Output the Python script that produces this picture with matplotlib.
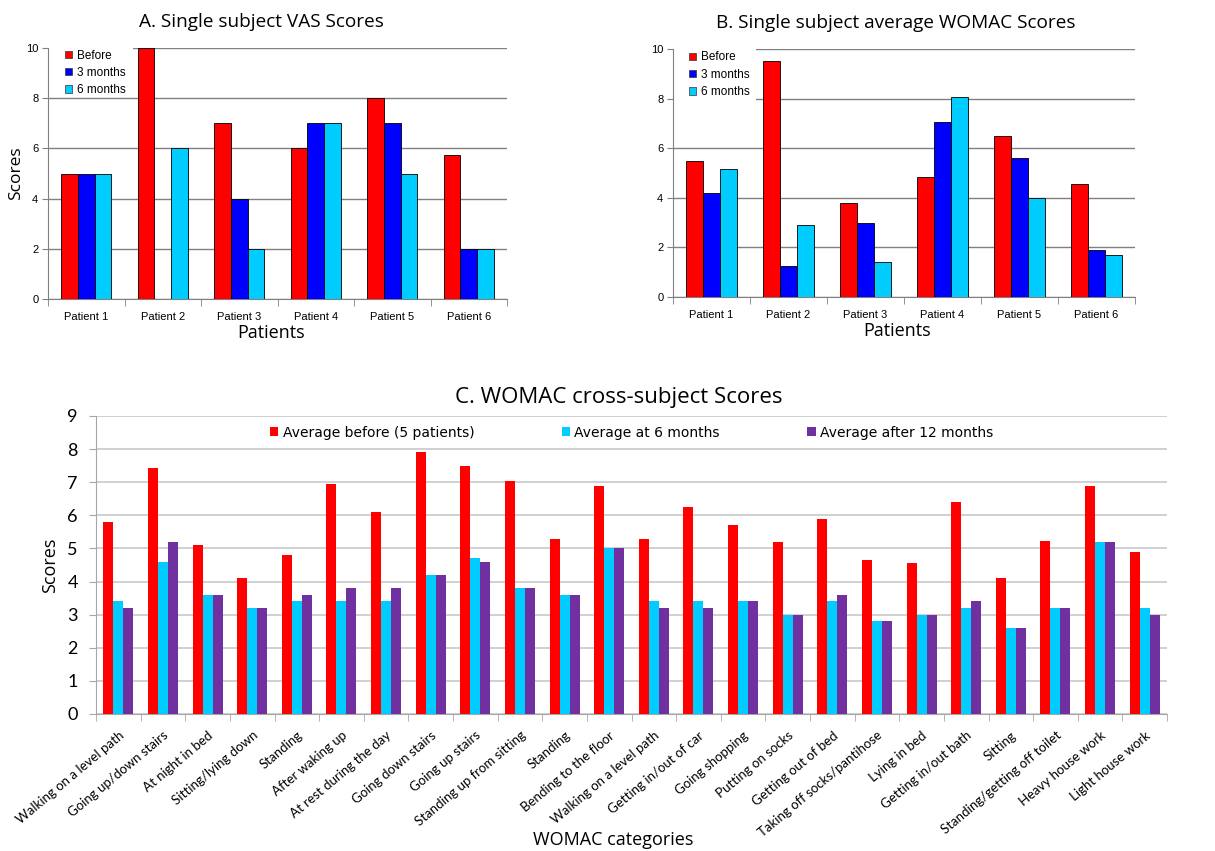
import numpy as np
import matplotlib.pyplot as plt
from matplotlib.patches import Patch, Rectangle

# --- data ---
patients = ['Patient 1', 'Patient 2', 'Patient 3', 'Patient 4', 'Patient 5', 'Patient 6']

vas_before = [5, 10, 7, 6, 8, 5.75]
vas_3m = [5, 0, 4, 7, 7, 2]
vas_6m = [5, 6, 2, 7, 5, 2]

womac_before = [5.5, 9.5, 3.8, 4.85, 6.5, 4.55]
womac_3m = [4.2, 1.25, 3.0, 7.05, 5.6, 1.9]
womac_6m = [5.15, 2.9, 1.4, 8.05, 4.0, 1.7]

categories = ['Walking on a level path', 'Going up/down stairs', 'At night in bed',
              'Sitting/lying down', 'Standing', 'After waking up', 'At rest during the day',
              'Going down stairs', 'Going up stairs', 'Standing up from sitting', 'Standing',
              'Bending to the floor', 'Walking on a level path', 'Getting in/out of car',
              'Going shopping', 'Putting on socks', 'Getting out of bed',
              'Taking off socks/pantihose', 'Lying in bed', 'Getting in/out bath', 'Sitting',
              'Standing/getting off toilet', 'Heavy house work', 'Light house work']
avg_before = [5.8, 7.42, 5.1, 4.1, 4.8, 6.94, 6.1, 7.9, 7.5, 7.05, 5.3, 6.9,
              5.3, 6.25, 5.7, 5.2, 5.9, 4.65, 4.55, 6.4, 4.1, 5.22, 6.9, 4.9]
avg_6m = [3.4, 4.6, 3.6, 3.2, 3.4, 3.4, 3.4, 4.2, 4.7, 3.8, 3.6, 5.0,
          3.4, 3.4, 3.4, 3.0, 3.4, 2.8, 3.0, 3.2, 2.6, 3.2, 5.2, 3.2]
avg_12m = [3.2, 5.2, 3.6, 3.2, 3.6, 3.8, 3.8, 4.2, 4.6, 3.8, 3.6, 5.0,
           3.2, 3.2, 3.4, 3.0, 3.6, 2.8, 3.0, 3.4, 2.6, 3.2, 5.2, 3.0]

RED = '#FF0000'
BLUE = '#0000FF'
CYAN = '#00CCFF'
PURPLE = '#7030A0'

W, H = 1215, 851
fig = plt.figure(figsize=(W / 100, H / 100), dpi=100)


def box(left, top, right, bottom):
    return [left / W, 1 - bottom / H, (right - left) / W, (bottom - top) / H]


def patient_panel(rect, title, before, m3, m6, ylabel, leg_xy, cover, tx):
    ax = fig.add_axes(rect)
    x = np.arange(len(patients))
    w = 0.218
    for off, vals, c in [(-w, before, RED), (0, m3, BLUE), (w, m6, CYAN)]:
        ax.bar(x + off, vals, w, color=c, edgecolor='black', linewidth=0.6, zorder=3)
    ax.set_xlim(-0.5, len(patients) - 0.5)
    ax.set_ylim(0, 10)
    ax.set_yticks([0, 2, 4, 6, 8, 10])
    ax.yaxis.grid(True, color='#808080', linewidth=1.0, zorder=0)
    ax.set_axisbelow(True)
    for s in ['top', 'right']:
        ax.spines[s].set_visible(False)
    for s in ['left', 'bottom']:
        ax.spines[s].set_color('#808080')
    ax.set_xticks(x)
    ax.set_xticklabels(patients, fontsize=8, family='Liberation Sans')
    ax.set_xticks(np.arange(-0.5, len(patients)), minor=True)
    ax.tick_params(axis='x', which='major', length=0, pad=9)
    ax.tick_params(axis='x', which='minor', length=5, color='#808080')
    ax.tick_params(axis='y', length=4, color='#808080', labelsize=8, pad=3)
    for t in ax.get_yticklabels():
        t.set_family('Liberation Sans')
    ax.set_title(title, fontsize=13.7, family='Open Sans', pad=15, x=tx)
    ax.set_xlabel('Patients', fontsize=13, family='Open Sans', labelpad=2)
    ax.xaxis.label.set_x(0.485)
    if ylabel:
        ax.set_ylabel(ylabel, fontsize=12.5, family='Open Sans', labelpad=1)
    # white patch behind the legend hides the top gridlines there
    ax.add_patch(Rectangle((0, cover[1]), cover[0], 1.02 - cover[1], transform=ax.transAxes,
                           facecolor='white', edgecolor='none', zorder=1))
    handles = [Patch(facecolor=RED, edgecolor='#333333', linewidth=0.5),
               Patch(facecolor=BLUE, edgecolor='#333333', linewidth=0.5),
               Patch(facecolor=CYAN, edgecolor='#333333', linewidth=0.5)]
    ax.legend(handles, ['Before', '3 months', '6 months'], loc='upper left',
              bbox_to_anchor=leg_xy, prop={'family': 'Liberation Sans', 'size': 8.5},
              handlelength=0.6, handleheight=0.6, handletextpad=0.4, labelspacing=0.45,
              borderpad=0, borderaxespad=0, frameon=False)
    return ax


patient_panel(box(48, 48, 507, 299), 'A. Single subject VAS Scores',
              vas_before, vas_3m, vas_6m, 'Scores', (0.037, 0.994), (0.185, 0.83), 0.466)
patient_panel(box(673, 49, 1135, 297), 'B. Single subject average WOMAC Scores',
              womac_before, womac_3m, womac_6m, None, (0.035, 0.99), (0.18, 0.76), 0.483)

# cross-subject panel
ax = fig.add_axes(box(96, 416, 1167, 714))
x = np.arange(len(categories))
w = 0.224
ax.bar(x - w, avg_before, w, color=RED, zorder=3, label='Average before (5 patients)')
ax.bar(x, avg_6m, w, color=CYAN, zorder=3, label='Average at 6 months')
ax.bar(x + w, avg_12m, w, color=PURPLE, zorder=3, label='Average after 12 months')
ax.set_xlim(-0.5, len(categories) - 0.5)
ax.set_ylim(0, 9)
ax.set_yticks(range(10))
ax.yaxis.grid(True, color='#C8C8C8', linewidth=1.2, zorder=0)
ax.set_axisbelow(True)
for s in ['top', 'right']:
    ax.spines[s].set_visible(False)
for s in ['left', 'bottom']:
    ax.spines[s].set_color('#A6A6A6')
ax.set_xticks(x)
ax.set_xticklabels(categories, rotation=40, ha='right', rotation_mode='anchor',
                   fontsize=9.5, family='Lato')
ax.set_xticks(np.arange(-0.5, len(categories)), minor=True)
ax.tick_params(axis='x', which='major', length=0, pad=11)
ax.tick_params(axis='x', which='minor', length=5, color='#A6A6A6')
ax.tick_params(axis='y', length=5, color='#A6A6A6', labelsize=13, pad=8)
for t in ax.get_yticklabels():
    t.set_family('Lato')
ax.set_title('C. WOMAC cross-subject Scores', fontsize=16, family='Open Sans', pad=9, x=0.488)
ax.set_ylabel('Scores', fontsize=13, family='Open Sans', labelpad=6)
ax.set_xlabel('WOMAC categories', fontsize=13, family='Open Sans')
ax.xaxis.set_label_coords(0.483, -0.393)
ax.legend(loc='center', bbox_to_anchor=(0.5, 8.5 / 9), ncol=3, frameon=False,
          prop={'family': 'DejaVu Sans', 'size': 10}, handlelength=0.6, handleheight=0.6,
          handletextpad=0.3, columnspacing=6.3)

plt.savefig('out.png', dpi=100)
